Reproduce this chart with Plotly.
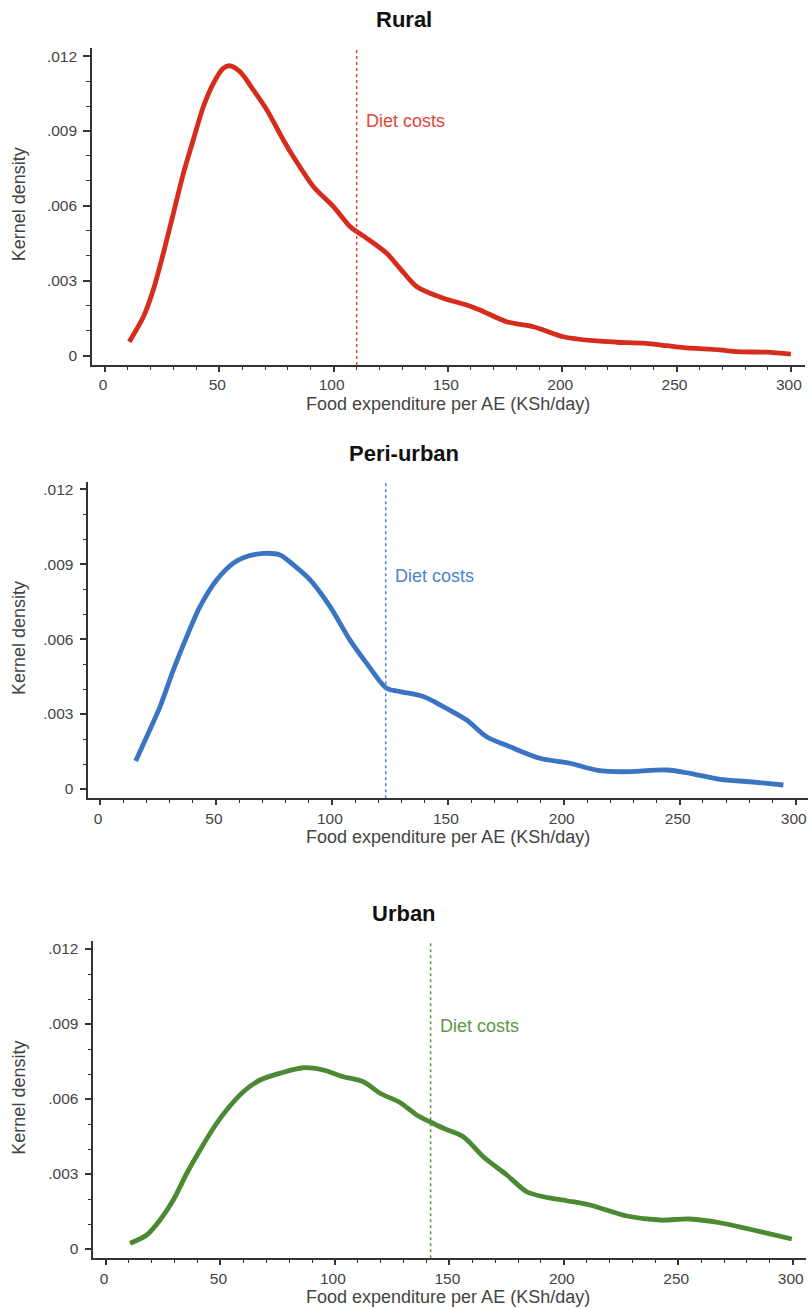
import plotly.graph_objects as go

# ---------------- data ----------------
panel_titles = ["Rural", "Peri-urban", "Urban"]
diet_costs = [110.1, 123.2, 141.8]

rural_x = [10.6, 16.8, 21.1, 25.5, 29.9, 34.3, 38.6, 43.0, 47.4, 51.7, 54.7, 59.1, 64.9, 70.8,
           78.0, 82.4, 91.2, 99.9, 107.2, 110.1, 114.5, 123.2, 129.0, 136.4, 148.0, 158.2, 164.0,
           175.7, 187.4, 191.8, 200.5, 213.6, 223.8, 235.5, 245.7, 253.0, 269.0, 276.3, 289.4, 300.0]
rural_y = [0.56, 1.56, 2.63, 4.10, 5.70, 7.30, 8.64, 9.97, 10.91, 11.51, 11.61, 11.37, 10.64, 9.84,
           8.64, 7.97, 6.77, 5.97, 5.17, 4.97, 4.70, 4.10, 3.50, 2.76, 2.30, 2.03, 1.83,
           1.36, 1.16, 1.03, 0.76, 0.60, 0.54, 0.50, 0.40, 0.32, 0.23, 0.16, 0.14, 0.06]

peri_x = [15.4, 20.1, 25.9, 31.6, 37.4, 43.1, 50.3, 57.5, 61.8, 70.4, 77.6, 83.4, 90.6, 99.2,
          107.8, 115.0, 123.6, 129.4, 139.4, 148.0, 158.1, 166.7, 176.8, 189.7, 202.6, 214.1,
          225.6, 244.4, 254.4, 267.4, 280.3, 294.7]
peri_y = [1.12, 2.09, 3.30, 4.76, 6.10, 7.30, 8.37, 9.04, 9.26, 9.43, 9.37, 8.97, 8.37, 7.30,
          5.96, 5.03, 4.03, 3.90, 3.70, 3.30, 2.76, 2.09, 1.69, 1.23, 1.03, 0.76,
          0.69, 0.76, 0.63, 0.39, 0.29, 0.16]

urban_x = [10.5, 17.8, 23.6, 29.4, 35.3, 41.1, 46.9, 52.7, 60.0, 67.3, 76.0, 86.2, 94.9, 103.7,
           112.4, 119.7, 128.4, 135.7, 141.5, 147.4, 156.1, 164.8, 175.1, 183.8, 191.1, 201.3,
           211.4, 218.7, 227.5, 242.0, 255.1, 268.2, 281.3, 299.6]
urban_y = [0.23, 0.56, 1.16, 1.96, 3.03, 3.96, 4.83, 5.56, 6.29, 6.76, 7.03, 7.25, 7.16, 6.89,
           6.69, 6.23, 5.86, 5.36, 5.09, 4.83, 4.49, 3.69, 2.96, 2.29, 2.09, 1.93,
           1.76, 1.56, 1.32, 1.16, 1.20, 1.05, 0.79, 0.40]

x_tick_vals = [0, 50, 100, 150, 200, 250, 300]
x_tick_text = ["0", "50", "100", "150", "200", "250", "300"]
y_tick_vals = [0, 0.003, 0.006, 0.009, 0.012]
y_tick_text = ["0", ".003", ".006", ".009", ".012"]

x_title = "Food expenditure per AE (KSh/day)"
y_title = "Kernel density"
label_text = "Diet costs"

# ---------------- styling / layout ----------------
W, H = 809, 1308
FONT = "Liberation Sans, Arial, Helvetica, sans-serif"
line_colors = ["#d62c1d", "#3a74c3", "#4b8a33"]
text_colors = ["#e0463b", "#4a83cd", "#5a9742"]

# pixel boxes: (x_left, x_right, y_top, y_bottom)
boxes = [(92, 805, 47.7, 365), (88.3, 808, 481.7, 798.3), (93.3, 806, 941, 1258.3)]
x_ranges = [[-5.69, 306.2], [-5.05, 305.3], [-5.55, 305.8]]
y_ranges = [[-0.000372, 0.012335], [-0.000372, 0.01230], [-0.000372, 0.01232]]
title_y = [19.5, 453.3, 913.3]
label_y = [0.00941, 0.00853, 0.00892]

series = [(rural_x, rural_y), (peri_x, peri_y), (urban_x, urban_y)]

fig = go.Figure()
layout = dict(
    width=W, height=H,
    margin=dict(l=0, r=0, t=0, b=0),
    paper_bgcolor="white", plot_bgcolor="white",
    showlegend=False,
    font=dict(family=FONT, color="#444"),
)
annotations = []
shapes = []

for i in range(3):
    n = "" if i == 0 else str(i + 1)
    xs, ys = series[i]
    fig.add_trace(go.Scatter(
        x=xs, y=[v / 1000 for v in ys], mode="lines",
        line=dict(color=line_colors[i], width=4.8, shape="spline", smoothing=0.8),
        xaxis="x" + n, yaxis="y" + n, hoverinfo="skip",
    ))
    xl, xr, yt, yb = boxes[i]
    layout["xaxis" + n] = dict(
        domain=[xl / W, xr / W], anchor="y" + n, range=x_ranges[i],
        showline=True, linecolor="#333", linewidth=1.6, mirror=False,
        ticks="outside", ticklen=5, tickwidth=1.6, tickcolor="#333",
        tickvals=x_tick_vals, ticktext=x_tick_text,
        tickfont=dict(size=15.5, color="#444", family=FONT),
        ticklabelshift=-2, ticklabeloverflow="allow",
        minor=dict(ticks="outside", dtick=10, tick0=0, ticklen=3, tickwidth=1.3,
                   tickcolor="#333", showgrid=False),
        showgrid=False, zeroline=False, fixedrange=True,
    )
    layout["yaxis" + n] = dict(
        domain=[1 - yb / H, 1 - yt / H], anchor="x" + n, range=y_ranges[i],
        showline=True, linecolor="#333", linewidth=1.6,
        ticks="outside", ticklen=7, tickwidth=1.6, tickcolor="#333",
        tickvals=y_tick_vals, ticktext=y_tick_text,
        tickfont=dict(size=15.5, color="#444", family=FONT),
        ticklabelstandoff=3,
        minor=dict(ticks="outside", dtick=0.001, tick0=0, ticklen=4, tickwidth=1.3,
                   tickcolor="#333", showgrid=False),
        showgrid=False, zeroline=False, fixedrange=True,
    )
    # dotted diet cost line
    shapes.append(dict(
        type="line", xref="x" + n, yref="y" + n + " domain",
        x0=diet_costs[i], x1=diet_costs[i], y0=0, y1=1,
        line=dict(color=text_colors[i], width=1.5, dash="dot"),
    ))
    annotations.append(dict(
        xref="x" + n, yref="y" + n, x=diet_costs[i], y=label_y[i],
        text=label_text, showarrow=False, xanchor="left", yanchor="middle", xshift=7,
        font=dict(size=18, color=text_colors[i], family=FONT),
    ))
    # panel title
    annotations.append(dict(
        xref="paper", yref="paper", x=404 / W, y=1 - title_y[i] / H,
        text="<b>" + panel_titles[i] + "</b>", showarrow=False,
        xanchor="center", yanchor="middle",
        font=dict(size=22, color="#111", family=FONT),
    ))
    # x axis title
    annotations.append(dict(
        xref="paper", yref="paper", x=448 / W, y=1 - (yb + 38.5) / H,
        text=x_title, showarrow=False, xanchor="center", yanchor="middle",
        font=dict(size=18, color="#444", family=FONT),
    ))
    # y axis title
    annotations.append(dict(
        xref="paper", yref="paper", x=19 / W, y=1 - ((yt + yb) / 2 - 2) / H,
        text=y_title, showarrow=False, xanchor="center", yanchor="middle",
        textangle=-90,
        font=dict(size=18, color="#444", family=FONT),
    ))

layout["annotations"] = annotations
layout["shapes"] = shapes
fig.update_layout(**layout)
fig.write_html(
    "out.html",
    config={"displayModeBar": False},
    post_script="document.body.style.margin='0';document.body.style.overflow='hidden';",
)
